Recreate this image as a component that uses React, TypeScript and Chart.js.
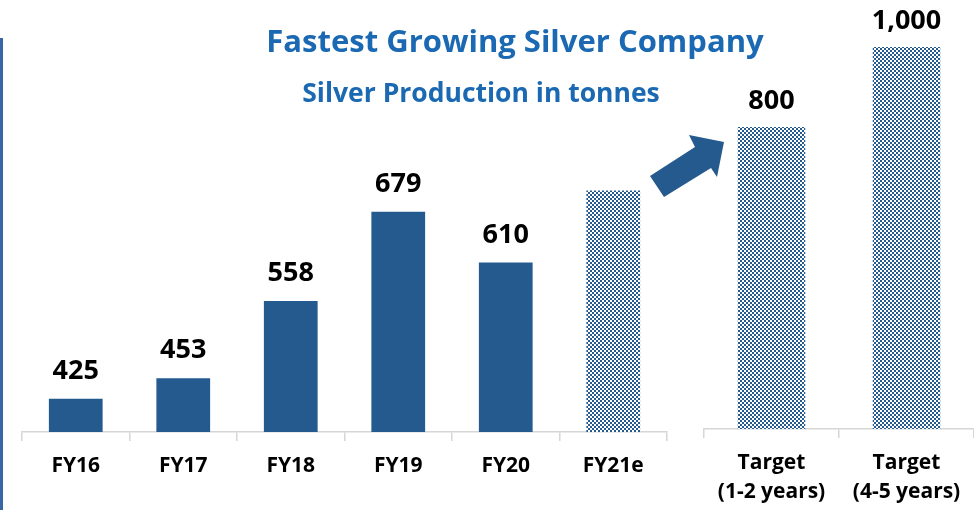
import React, { useEffect, useRef } from "react";
import { Chart, registerables } from "chart.js";

Chart.register(...registerables);

// ---- Data ----
const histCategories = ["FY16", "FY17", "FY18", "FY19", "FY20", "FY21e"];
const histValues = [425, 453, 558, 679, 610, 708];
const histShowValue = [true, true, true, true, true, false];
const histPatterned = [false, false, false, false, false, true];

const targetCategories = [["Target", "(1-2 years)"], ["Target", "(4-5 years)"]];
const targetValues = [800, 1000];
const targetShowValue = [true, true];

const titleText = "Fastest Growing Silver Company";
const subtitleText = "Silver Production in tonnes";

const BAR_BLUE = "#255a8e";
const TITLE_BLUE = "#1a69b2";
const AXIS_GRAY = "#d6d6d6";
const FONT = "'Open Sans', Lato, sans-serif";

function makePattern(ctx: CanvasRenderingContext2D) {
  const c = document.createElement("canvas");
  c.width = 4;
  c.height = 4;
  const p = c.getContext("2d")!;
  p.fillStyle = "#ffffff";
  p.fillRect(0, 0, 4, 4);
  p.fillStyle = BAR_BLUE;
  p.fillRect(0, 0, 2, 2);
  p.fillRect(2, 2, 2, 2);
  return ctx.createPattern(c, "repeat")!;
}

const valueLabelPlugin = {
  id: "valueLabels",
  afterDatasetsDraw(chart: any, _args: any, opts: any) {
    const ctx = chart.ctx;
    const meta = chart.getDatasetMeta(0);
    const data = chart.data.datasets[0].data as number[];
    const shown: boolean[] = opts.shown || [];
    ctx.save();
    ctx.fillStyle = "#000000";
    ctx.font = `bold 27px ${FONT}`;
    ctx.textAlign = "center";
    ctx.textBaseline = "alphabetic";
    meta.data.forEach((bar: any, i: number) => {
      if (!shown[i]) return;
      ctx.fillText(data[i].toLocaleString("en-US"), bar.x, bar.y - (opts.offset ?? 20));
    });
    ctx.restore();
  },
};

function xScale(padding: number, height: number, lineHeight: number) {
  return {
    grid: {
      offset: true,
      drawOnChartArea: false,
      drawTicks: true,
      tickLength: 9,
      color: AXIS_GRAY,
      lineWidth: 1.5,
    },
    border: { display: true, color: AXIS_GRAY, width: 1.5 },
    ticks: {
      color: "#000000",
      font: { family: FONT, size: 21, weight: "bold" as const, lineHeight },
      padding,
      maxRotation: 0,
      autoSkip: false,
    },
    afterFit: (s: any) => {
      s.height = height;
    },
  };
}

export default function App() {
  const leftRef = useRef<HTMLCanvasElement>(null);
  const rightRef = useRef<HTMLCanvasElement>(null);

  useEffect(() => {
    const lctx = leftRef.current!.getContext("2d")!;
    const rctx = rightRef.current!.getContext("2d")!;
    const pattern = makePattern(lctx);
    const rpattern = makePattern(rctx);

    const left = new Chart(lctx, {
      type: "bar",
      data: {
        labels: histCategories,
        datasets: [
          {
            data: histValues,
            backgroundColor: histPatterned.map((p) => (p ? pattern : BAR_BLUE)),
            barPercentage: 0.5,
            categoryPercentage: 1,
          },
        ],
      },
      options: {
        responsive: false,
        animation: false,
        layout: { padding: { left: 22, right: 307, top: 49, bottom: 0 } },
        plugins: {
          legend: { display: false },
          tooltip: { enabled: false },
          valueLabels: { shown: histShowValue, offset: 20 },
        } as any,
        scales: {
          x: xScale(12.4, 78, 1.2) as any,
          y: { display: false, min: 380, max: 900 },
        },
      },
      plugins: [valueLabelPlugin],
    });

    const right = new Chart(rctx, {
      type: "bar",
      data: {
        labels: targetCategories as any,
        datasets: [
          {
            data: targetValues,
            backgroundColor: rpattern,
            barPercentage: 0.5,
            categoryPercentage: 1,
          },
        ],
      },
      options: {
        responsive: false,
        animation: false,
        layout: { padding: { left: 704, right: 0, top: 7, bottom: 0 } },
        plugins: {
          legend: { display: false },
          tooltip: { enabled: false },
          valueLabels: { shown: targetShowValue, offset: 18 },
        } as any,
        scales: {
          x: xScale(11, 81, 1.38) as any,
          y: { display: false, min: 46, max: 1100 },
        },
      },
      plugins: [valueLabelPlugin],
    });

    return () => {
      left.destroy();
      right.destroy();
    };
  }, []);

  return (
    <div
      style={{
        position: "fixed",
        left: 0,
        top: 0,
        width: 974,
        height: 510,
        background: "#ffffff",
        overflow: "hidden",
      }}
    >
      <div
        style={{
          position: "absolute",
          left: 0,
          top: 38,
          width: 3,
          height: 472,
          background: "#3868a4",
        }}
      />
      <canvas
        ref={leftRef}
        width={974}
        height={510}
        style={{ position: "absolute", left: 0, top: 0 }}
      />
      <canvas
        ref={rightRef}
        width={974}
        height={510}
        style={{ position: "absolute", left: 0, top: 0 }}
      />
      <svg
        width={974}
        height={510}
        style={{ position: "absolute", left: 0, top: 0, pointerEvents: "none" }}
      >
        <polygon
          points="650,176 664,197 711,168 717,177 724,142 689,135 695,147"
          fill={BAR_BLUE}
        />
      </svg>
      <div
        style={{
          position: "absolute",
          left: 515,
          top: 40,
          transform: "translate(-50%, -50%)",
          whiteSpace: "nowrap",
          color: TITLE_BLUE,
          fontFamily: FONT,
          fontWeight: 700,
          fontSize: 31,
        }}
      >
        {titleText}
      </div>
      <div
        style={{
          position: "absolute",
          left: 481,
          top: 92,
          transform: "translate(-50%, -50%)",
          whiteSpace: "nowrap",
          color: TITLE_BLUE,
          fontFamily: FONT,
          fontWeight: 700,
          fontSize: 26.5,
        }}
      >
        {subtitleText}
      </div>
    </div>
  );
}
